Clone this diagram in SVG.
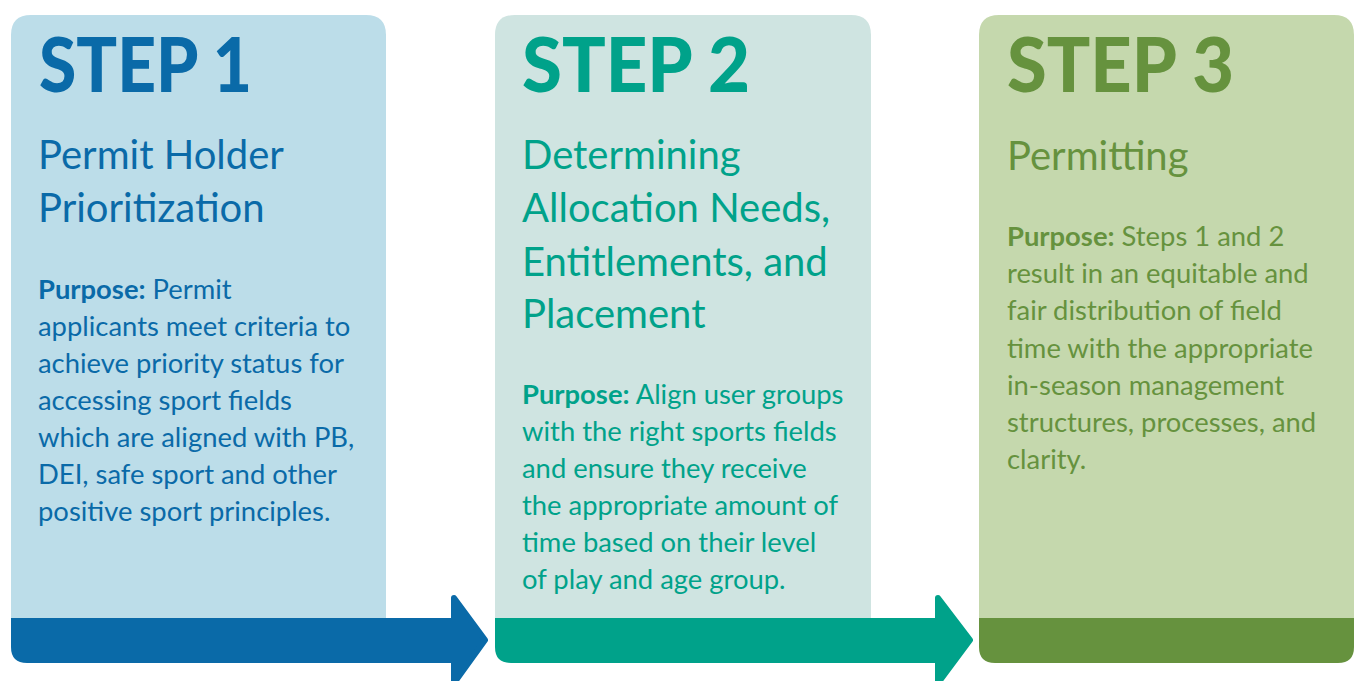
<svg xmlns="http://www.w3.org/2000/svg" width="1354" height="681" viewBox="0 0 1354 681">
<style>
.step{font-family:Lato,"Open Sans",sans-serif;font-weight:900;font-size:76px}
.title{font-family:Lato,"Open Sans",sans-serif;font-weight:400;font-size:40px}
.body{font-family:Lato,"Open Sans",sans-serif;font-weight:400;font-size:27.4px}
.b{font-weight:700}
.c1{fill:#0A6AA8}.c2{fill:#00A28A}.c3{fill:#66923E}
.l1{fill:#BCDDE9}.l2{fill:#CFE4E1}.l3{fill:#C5D8AD}
.ah{stroke-linejoin:round;stroke-width:6}
</style>
<rect width="1354" height="681" fill="#ffffff"/>
<g id="step1">
<path class="l1" d="M11,630 V35 Q11,15 31,15 H366 Q386,15 386,35 V630 Z"/>
<text class="step c1" x="39" y="92" textLength="213" lengthAdjust="spacingAndGlyphs">STEP 1</text>
<text class="title c1" x="38" y="169">Permit Holder</text>
<text class="title c1" x="38" y="222">Prioritization</text>
<g class="body c1">
<text x="38" y="299"><tspan class="b">Purpose:</tspan> Permit</text>
<text x="38" y="336">applicants meet criteria to</text>
<text x="38" y="373">achieve priority status for</text>
<text x="38" y="410">accessing sport fields</text>
<text x="38" y="447">which are aligned with PB,</text>
<text x="38" y="484">DEI, safe sport and other</text>
<text x="38" y="521">positive sport principles.</text>
</g>
</g>
<g id="step2">
<path class="l2" d="M495,630 V35 Q495,15 515,15 H851 Q871,15 871,35 V630 Z"/>
<text class="step c2" x="522" y="92" textLength="228" lengthAdjust="spacingAndGlyphs">STEP 2</text>
<text class="title c2" x="522" y="169">Determining</text>
<text class="title c2" x="522" y="222">Allocation Needs,</text>
<text class="title c2" x="522" y="276">Entitlements, and</text>
<text class="title c2" x="522" y="328">Placement</text>
<g class="body c2">
<text x="522" y="404"><tspan class="b">Purpose:</tspan> Align user groups</text>
<text x="522" y="441">with the right sports fields</text>
<text x="522" y="478">and ensure they receive</text>
<text x="522" y="515">the appropriate amount of</text>
<text x="522" y="552">time based on their level</text>
<text x="522" y="589">of play and age group.</text>
</g>
</g>
<g id="step3">
<path class="l3" d="M979,630 V35 Q979,15 999,15 H1334 Q1354,15 1354,35 V630 Z"/>
<text class="step c3" x="1007" y="92" textLength="227" lengthAdjust="spacingAndGlyphs">STEP 3</text>
<text class="title c3" x="1007" y="170">Permitting</text>
<g class="body c3">
<text x="1007" y="246"><tspan class="b">Purpose:</tspan> Steps 1 and 2</text>
<text x="1007" y="283">result in an equitable and</text>
<text x="1007" y="320">fair distribution of field</text>
<text x="1007" y="358">time with the appropriate</text>
<text x="1007" y="395">in-season management</text>
<text x="1007" y="432">structures, processes, and</text>
<text x="1007" y="469">clarity.</text>
</g>
</g>
<g id="connectors">
<path class="c1" d="M11,618 H456 V663 H27 Q11,663 11,647 Z"/>
<polygon class="c1 ah" stroke="#0A6AA8" points="454,598 485,640 454,683"/>
<path class="c2" d="M495,618 H940 V663 H511 Q495,663 495,647 Z"/>
<polygon class="c2 ah" stroke="#00A28A" points="938,598 970,640 938,683"/>
<path class="c3" d="M979,618 H1354 V647 Q1354,663 1338,663 H995 Q979,663 979,647 Z"/>
</g>
</svg>
